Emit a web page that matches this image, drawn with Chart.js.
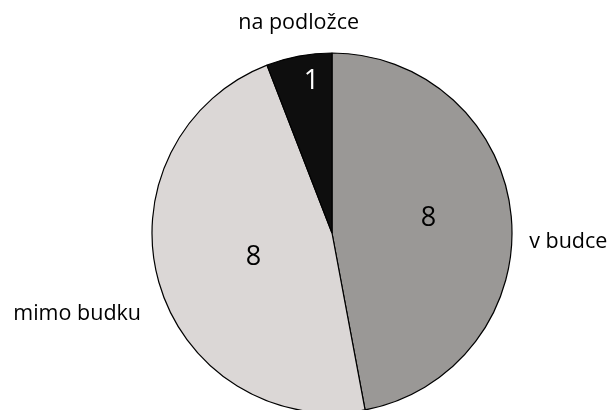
<!DOCTYPE html>
<html>
<head>
<meta charset="utf-8">
<script src="https://cdn.jsdelivr.net/npm/chart.js@4"></script>
<style>
  html, body { margin: 0; padding: 0; background: #fff; }
  #wrap { width: 613px; height: 410px; }
</style>
</head>
<body>
<div id="wrap"><canvas id="pieChart" width="613" height="410"></canvas></div>
<script>
// Datos
const categorias = ['v budce', 'mimo budku', 'na podložce'];
const valores = [8, 8, 1];

// Estilos
const colores = ['#9a9896', '#dbd7d6', '#0e0e0e'];
const coloresTexto = ['#000', '#000', '#fff'];
// posición de etiquetas: fracción del radio (dentro) y empujes en px
const etiquetaDentro = [
    { r: 0.55, dx: -2, dy: -6 },
    { r: 0.5, dx: 8, dy: 0 },
    { r: 0.86, dx: 8, dy: 0 }
];
const etiquetaFuera = [
    { gap: 18, dx: 0, dy: 27, align: 'left' },
    { gap: 30, dx: 11, dy: 23, align: 'right' },
    { gap: 18, dx: 3, dy: -15, align: 'center' }
];

const fuente = '"Open Sans", sans-serif';

// Plugin para dibujar las etiquetas
const etiquetasPlugin = {
    id: 'etiquetas',
    afterDatasetsDraw(chart) {
        const ctx = chart.ctx;
        const meta = chart.getDatasetMeta(0);
        ctx.save();
        meta.data.forEach((arc, i) => {
            const { x, y, startAngle, endAngle, outerRadius } = arc.getProps(['x', 'y', 'startAngle', 'endAngle', 'outerRadius'], true);
            const mid = (startAngle + endAngle) / 2;
            const cos = Math.cos(mid), sin = Math.sin(mid);

            // valor dentro
            const d = etiquetaDentro[i];
            ctx.font = '27px ' + fuente;
            ctx.fillStyle = coloresTexto[i];
            ctx.textAlign = 'center';
            ctx.textBaseline = 'middle';
            ctx.fillText(String(valores[i]), x + cos * outerRadius * d.r + d.dx, y + sin * outerRadius * d.r + d.dy);

            // categoría fuera
            const f = etiquetaFuera[i];
            ctx.font = '21.5px ' + fuente;
            ctx.fillStyle = '#000';
            ctx.textAlign = f.align;
            ctx.fillText(categorias[i], x + cos * (outerRadius + f.gap) + f.dx, y + sin * (outerRadius + f.gap) + f.dy);
        });
        ctx.restore();
    }
};

const pieChart = new Chart(document.getElementById('pieChart'), {
    type: 'pie',
    data: {
        labels: categorias,
        datasets: [{
            data: valores,
            backgroundColor: colores,
            borderColor: '#000',
            borderWidth: 1.2,
            clip: false
        }]
    },
    options: {
        responsive: false,
        animation: false,
        radius: 180,
        layout: {
            padding: { left: 51, right: 0, top: 56, bottom: 0 }
        },
        plugins: {
            legend: { display: false },
            tooltip: { enabled: false }
        }
    },
    plugins: [etiquetasPlugin]
});
</script>
</body>
</html>
